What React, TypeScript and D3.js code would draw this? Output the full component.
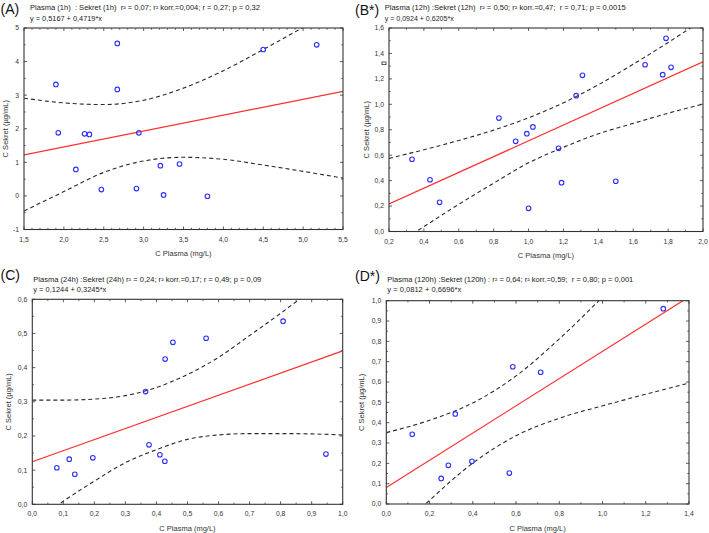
import React from 'react';
import * as d3 from 'd3';

// ---------- data ----------
const panelLabels = ['(A)', '(B*)', '(C)', '(D*)'];
const titleLine1 = [
  'Plasma (1h)  : Sekret (1h)  r² = 0,07; r² korr.=0,004; r = 0,27; p = 0,32',
  'Plasma (12h) :Sekret (12h)  r² = 0,50; r² korr.=0,47;  r = 0,71; p = 0,0015',
  'Plasma (24h) :Sekret (24h) r² = 0,24; r² korr.=0,17; r = 0,49; p = 0,09',
  'Plasma (120h) :Sekret (120h) : r² = 0,64; r² korr.=0,59;  r = 0,80; p = 0,001',
];
const titleLine2 = [
  'y = 0,5167 + 0,4719*x',
  'y = 0,0924 + 0,6205*x',
  'y = 0,1244 + 0,3245*x',
  'y = 0,0812 + 0,6696*x',
];
const xAxisTitle = 'C Plasma (mg/L)';
const yAxisTitle = 'C Sekret (µg/mL)';

const interceptA = 0.5167, slopeA = 0.4719;
const interceptB = 0.0924, slopeB = 0.6205;
const interceptC = 0.1244, slopeC = 0.3245;
const interceptD = 0.0812, slopeD = 0.6696;

const plasmaA = [1.90, 2.67, 2.67, 4.50, 5.17, 1.93, 2.26, 2.32, 2.94, 2.15, 3.21, 3.45, 2.47, 2.91, 3.25, 3.80];
const sekretA = [3.32, 4.54, 3.17, 4.36, 4.50, 1.88, 1.85, 1.83, 1.88, 0.79, 0.90, 0.95, 0.19, 0.22, 0.03, -0.01];

const plasmaB = [1.788, 1.668, 1.769, 1.817, 1.309, 1.273, 0.830, 1.025, 0.990, 0.926, 1.172, 0.332, 0.435, 1.189, 1.500, 0.490, 1.000];
const sekretB = [1.519, 1.311, 1.233, 1.291, 1.228, 1.068, 0.892, 0.822, 0.769, 0.709, 0.654, 0.568, 0.407, 0.384, 0.395, 0.229, 0.182];

const plasmaC = [0.808, 0.560, 0.453, 0.428, 0.365, 0.376, 0.411, 0.427, 0.946, 0.195, 0.119, 0.079, 0.137];
const sekretC = [0.536, 0.486, 0.474, 0.425, 0.330, 0.174, 0.145, 0.126, 0.147, 0.136, 0.132, 0.107, 0.088];

const plasmaD = [1.281, 0.585, 0.714, 0.319, 0.120, 0.396, 0.287, 0.569, 0.254];
const sekretD = [0.961, 0.675, 0.648, 0.443, 0.343, 0.210, 0.190, 0.152, 0.126];

// confidence bands
const bandXA = [1.5, 2.0, 2.5, 3.0, 3.5, 4.0, 4.5, 5.0, 5.5];
const bandUpperA = [2.91, 2.77, 2.72, 2.85, 3.21, 3.73, 4.36, 5.02, 5.69];
const bandLowerA = [-0.45, 0.13, 0.70, 1.04, 1.15, 1.09, 0.92, 0.73, 0.53];

const bandXB = [0.2, 0.4, 0.6, 0.8, 1.0, 1.2, 1.4, 1.6, 1.8, 2.0];
const bandUpperB = [0.575, 0.643, 0.716, 0.797, 0.894, 1.012, 1.154, 1.315, 1.486, 1.665];
const bandLowerB = [-0.142, 0.038, 0.214, 0.380, 0.540, 0.662, 0.768, 0.850, 0.930, 1.002];

const bandXC = [0, 0.1, 0.2, 0.3, 0.4, 0.5, 0.6, 0.7, 0.8, 0.9, 1.0];
const bandUpperC = [0.305, 0.305, 0.308, 0.318, 0.342, 0.380, 0.430, 0.494, 0.559, 0.627, 0.695];
const bandLowerC = [-0.056, 0.009, 0.068, 0.122, 0.160, 0.190, 0.203, 0.207, 0.207, 0.206, 0.203];

const bandXD = [0, 0.2, 0.4, 0.6, 0.8, 1.0, 1.2, 1.4];
const bandUpperD = [0.351, 0.412, 0.497, 0.630, 0.812, 1.018, 1.234, 1.454];
const bandLowerD = [-0.189, 0.018, 0.201, 0.336, 0.422, 0.483, 0.540, 0.595];

const xTicksA = [1.5, 2.0, 2.5, 3.0, 3.5, 4.0, 4.5, 5.0, 5.5];
const xTickLabelsA = ['1,5', '2,0', '2,5', '3,0', '3,5', '4,0', '4,5', '5,0', '5,5'];
const yTicksA = [-1, 0, 1, 2, 3, 4, 5];
const yTickLabelsA = ['-1', '0', '1', '2', '3', '4', '5'];

const xTicksB = [0.2, 0.4, 0.6, 0.8, 1.0, 1.2, 1.4, 1.6, 1.8, 2.0];
const xTickLabelsB = ['0,2', '0,4', '0,6', '0,8', '1,0', '1,2', '1,4', '1,6', '1,8', '2,0'];
const yTicksB = [0, 0.2, 0.4, 0.6, 0.8, 1.0, 1.2, 1.4, 1.6];
const yTickLabelsB = ['0,0', '0,2', '0,4', '0,6', '0,8', '1,0', '1,2', '1,4', '1,6'];

const xTicksC = [0, 0.1, 0.2, 0.3, 0.4, 0.5, 0.6, 0.7, 0.8, 0.9, 1.0];
const xTickLabelsC = ['0,0', '0,1', '0,2', '0,3', '0,4', '0,5', '0,6', '0,7', '0,8', '0,9', '1,0'];
const yTicksC = [0, 0.1, 0.2, 0.3, 0.4, 0.5, 0.6];
const yTickLabelsC = ['0,0', '0,1', '0,2', '0,3', '0,4', '0,5', '0,6'];

const xTicksD = [0, 0.2, 0.4, 0.6, 0.8, 1.0, 1.2, 1.4];
const xTickLabelsD = ['0,0', '0,2', '0,4', '0,6', '0,8', '1,0', '1,2', '1,4'];
const yTicksD = [0, 0.1, 0.2, 0.3, 0.4, 0.5, 0.6, 0.7, 0.8, 0.9, 1.0];
const yTickLabelsD = ['0,0', '0,1', '0,2', '0,3', '0,4', '0,5', '0,6', '0,7', '0,8', '0,9', '1,0'];

// ---------- layout ----------
const FONT = '"Liberation Sans", Arial, sans-serif';

type PanelCfg = {
  id: string;
  label: string; labelX: number; labelY: number;
  t1: string; t2: string; tX: number; t1Y: number; t2Y: number; t1W: number; t2W: number;
  left: number; right: number; top: number; bottom: number;
  xDomain: [number, number]; yDomain: [number, number];
  xTicks: number[]; xLabels: string[]; yTicks: number[]; yLabels: string[];
  xMinorDiv: number; yMinorDiv: number;
  px: number[]; py: number[];
  a: number; b: number;
  bx: number[]; bu: number[]; bl: number[];
  yTitleX: number;
};

const panels: PanelCfg[] = [
  {
    id: 'A', label: panelLabels[0], labelX: 0.5, labelY: 14,
    t1: titleLine1[0], t2: titleLine2[0], tX: 30, t1Y: 10, t2Y: 20.5, t1W: 230, t2W: 72,
    left: 24, right: 343, top: 28, bottom: 229.5,
    xDomain: [1.5, 5.5], yDomain: [-1, 5],
    xTicks: xTicksA, xLabels: xTickLabelsA, yTicks: yTicksA, yLabels: yTickLabelsA,
    xMinorDiv: 5, yMinorDiv: 2,
    px: plasmaA, py: sekretA, a: interceptA, b: slopeA,
    bx: bandXA, bu: bandUpperA, bl: bandLowerA, yTitleX: 5.5,
  },
  {
    id: 'B', label: panelLabels[1], labelX: 355, labelY: 14.5,
    t1: titleLine1[1], t2: titleLine2[1], tX: 384.7, t1Y: 10, t2Y: 20.5, t1W: 241, t2W: 69,
    left: 389, right: 703, top: 28, bottom: 231.5,
    xDomain: [0.2, 2.0], yDomain: [0, 1.6],
    xTicks: xTicksB, xLabels: xTickLabelsB, yTicks: yTicksB, yLabels: yTickLabelsB,
    xMinorDiv: 2, yMinorDiv: 2,
    px: plasmaB, py: sekretB, a: interceptB, b: slopeB,
    bx: bandXB, bu: bandUpperB, bl: bandLowerB, yTitleX: 366,
  },
  {
    id: 'C', label: panelLabels[2], labelX: 0.5, labelY: 279.5,
    t1: titleLine1[2], t2: titleLine2[2], tX: 33.3, t1Y: 281.5, t2Y: 292, t1W: 228, t2W: 73,
    left: 32.3, right: 342.7, top: 299.3, bottom: 504.3,
    xDomain: [0, 1], yDomain: [0, 0.6],
    xTicks: xTicksC, xLabels: xTickLabelsC, yTicks: yTicksC, yLabels: yTickLabelsC,
    xMinorDiv: 2, yMinorDiv: 2,
    px: plasmaC, py: sekretC, a: interceptC, b: slopeC,
    bx: bandXC, bu: bandUpperC, bl: bandLowerC, yTitleX: 8,
  },
  {
    id: 'D', label: panelLabels[3], labelX: 355, labelY: 281,
    t1: titleLine1[3], t2: titleLine2[3], tX: 387.3, t1Y: 281.5, t2Y: 292, t1W: 246, t2W: 74,
    left: 386.3, right: 689, top: 300.7, bottom: 504,
    xDomain: [0, 1.4], yDomain: [0, 1],
    xTicks: xTicksD, xLabels: xTickLabelsD, yTicks: yTicksD, yLabels: yTickLabelsD,
    xMinorDiv: 2, yMinorDiv: 2,
    px: plasmaD, py: sekretD, a: interceptD, b: slopeD,
    bx: bandXD, bu: bandUpperD, bl: bandLowerD, yTitleX: 361,
  },
];

function minorTicks(major: number[], div: number): number[] {
  const out: number[] = [];
  for (let i = 0; i < major.length - 1; i++) {
    const step = (major[i + 1] - major[i]) / div;
    for (let k = 1; k < div; k++) out.push(major[i] + step * k);
  }
  return out;
}

function Panel({ p }: { p: PanelCfg }) {
  const x = d3.scaleLinear().domain(p.xDomain).range([p.left, p.right]);
  const y = d3.scaleLinear().domain(p.yDomain).range([p.bottom, p.top]);
  const band = (vals: number[]) =>
    d3.line<number>()
      .x((_, i) => x(p.bx[i]))
      .y((v) => y(v))
      .curve(d3.curveMonotoneX)(vals) || '';
  const clipId = 'clip' + p.id;
  const xMin = minorTicks(p.xTicks, p.xMinorDiv);
  const yMin = minorTicks(p.yTicks, p.yMinorDiv);
  const tickColor = '#333';
  const majLen = 3, minLen = 1.8;
  const w = p.right - p.left, h = p.bottom - p.top;
  return (
    <g>
      <defs>
        <clipPath id={clipId}>
          <rect x={p.left} y={p.top} width={w} height={h} />
        </clipPath>
      </defs>
      <text x={p.labelX} y={p.labelY} fontSize={14} fontFamily={FONT} fill="#111">{p.label}</text>
      <text x={p.tX} y={p.t1Y} fontSize={6.8} fontFamily={FONT} fill="#222"
        style={{ whiteSpace: 'pre' }} textLength={p.t1W} lengthAdjust="spacingAndGlyphs">{p.t1}</text>
      <text x={p.tX} y={p.t2Y} fontSize={6.8} fontFamily={FONT} fill="#222"
        textLength={p.t2W} lengthAdjust="spacingAndGlyphs">{p.t2}</text>

      {/* ticks on all four sides, pointing inward */}
      {p.xTicks.map((t, i) => (
        <g key={'xt' + i}>
          <line x1={x(t)} x2={x(t)} y1={p.bottom} y2={p.bottom - majLen} stroke={tickColor} strokeWidth={0.8} />
          <line x1={x(t)} x2={x(t)} y1={p.top} y2={p.top + majLen} stroke={tickColor} strokeWidth={0.8} />
          <text x={x(t)} y={p.bottom + 12} fontSize={6.8} fontFamily={FONT} fill="#333" textAnchor="middle">{p.xLabels[i]}</text>
        </g>
      ))}
      {xMin.map((t, i) => (
        <g key={'xm' + i}>
          <line x1={x(t)} x2={x(t)} y1={p.bottom} y2={p.bottom - minLen} stroke={tickColor} strokeWidth={0.7} />
          <line x1={x(t)} x2={x(t)} y1={p.top} y2={p.top + minLen} stroke={tickColor} strokeWidth={0.7} />
        </g>
      ))}
      {p.yTicks.map((t, i) => (
        <g key={'yt' + i}>
          <line x1={p.left} x2={p.left + majLen} y1={y(t)} y2={y(t)} stroke={tickColor} strokeWidth={0.8} />
          <line x1={p.right} x2={p.right - majLen} y1={y(t)} y2={y(t)} stroke={tickColor} strokeWidth={0.8} />
          <text x={p.left - 5} y={y(t)} dy="0.35em" fontSize={6.8} fontFamily={FONT} fill="#333" textAnchor="end">{p.yLabels[i]}</text>
        </g>
      ))}
      {yMin.map((t, i) => (
        <g key={'ym' + i}>
          <line x1={p.left} x2={p.left + minLen} y1={y(t)} y2={y(t)} stroke={tickColor} strokeWidth={0.7} />
          <line x1={p.right} x2={p.right - minLen} y1={y(t)} y2={y(t)} stroke={tickColor} strokeWidth={0.7} />
        </g>
      ))}

      <g clipPath={`url(#${clipId})`}>
        <path d={band(p.bu)} fill="none" stroke="#2a2a2a" strokeWidth={1.1} strokeDasharray="4,3" />
        <path d={band(p.bl)} fill="none" stroke="#2a2a2a" strokeWidth={1.1} strokeDasharray="4,3" />
        <line x1={x(p.xDomain[0])} y1={y(p.a + p.b * p.xDomain[0])}
          x2={x(p.xDomain[1])} y2={y(p.a + p.b * p.xDomain[1])}
          stroke="#ff2d2d" strokeWidth={1.2} />
      </g>
      {p.px.map((v, i) => (
        <circle key={'pt' + i} cx={x(v)} cy={y(p.py[i])} r={2.3} fill="none" stroke="#2f2fff" strokeWidth={1.1} />
      ))}

      <rect x={p.left} y={p.top} width={w} height={h} fill="none" stroke="#333" strokeWidth={1.1} />

      <text x={(p.left + p.right) / 2} y={p.bottom + 26.5} fontSize={7.5} fontFamily={FONT} fill="#333" textAnchor="middle">{xAxisTitle}</text>
      <text transform={`translate(${p.yTitleX},${(p.top + p.bottom) / 2}) rotate(-90)`} dy="0.35em"
        fontSize={7.5} fontFamily={FONT} fill="#333" textAnchor="middle">{yAxisTitle}</text>
    </g>
  );
}

export default function App() {
  return (
    <svg width={709} height={533} viewBox="0 0 709 533"
      style={{ position: 'absolute', left: 0, top: 0, background: '#fff' }}>
      <rect x={0} y={0} width={709} height={533} fill="#fff" />
      {panels.map((p) => <Panel key={p.id} p={p} />)}
      {/* small stray marker next to panel B's 1,4 tick label */}
      <rect x={382} y={62} width={4} height={2.6} fill="none" stroke="#333" strokeWidth={0.8} />
    </svg>
  );
}
